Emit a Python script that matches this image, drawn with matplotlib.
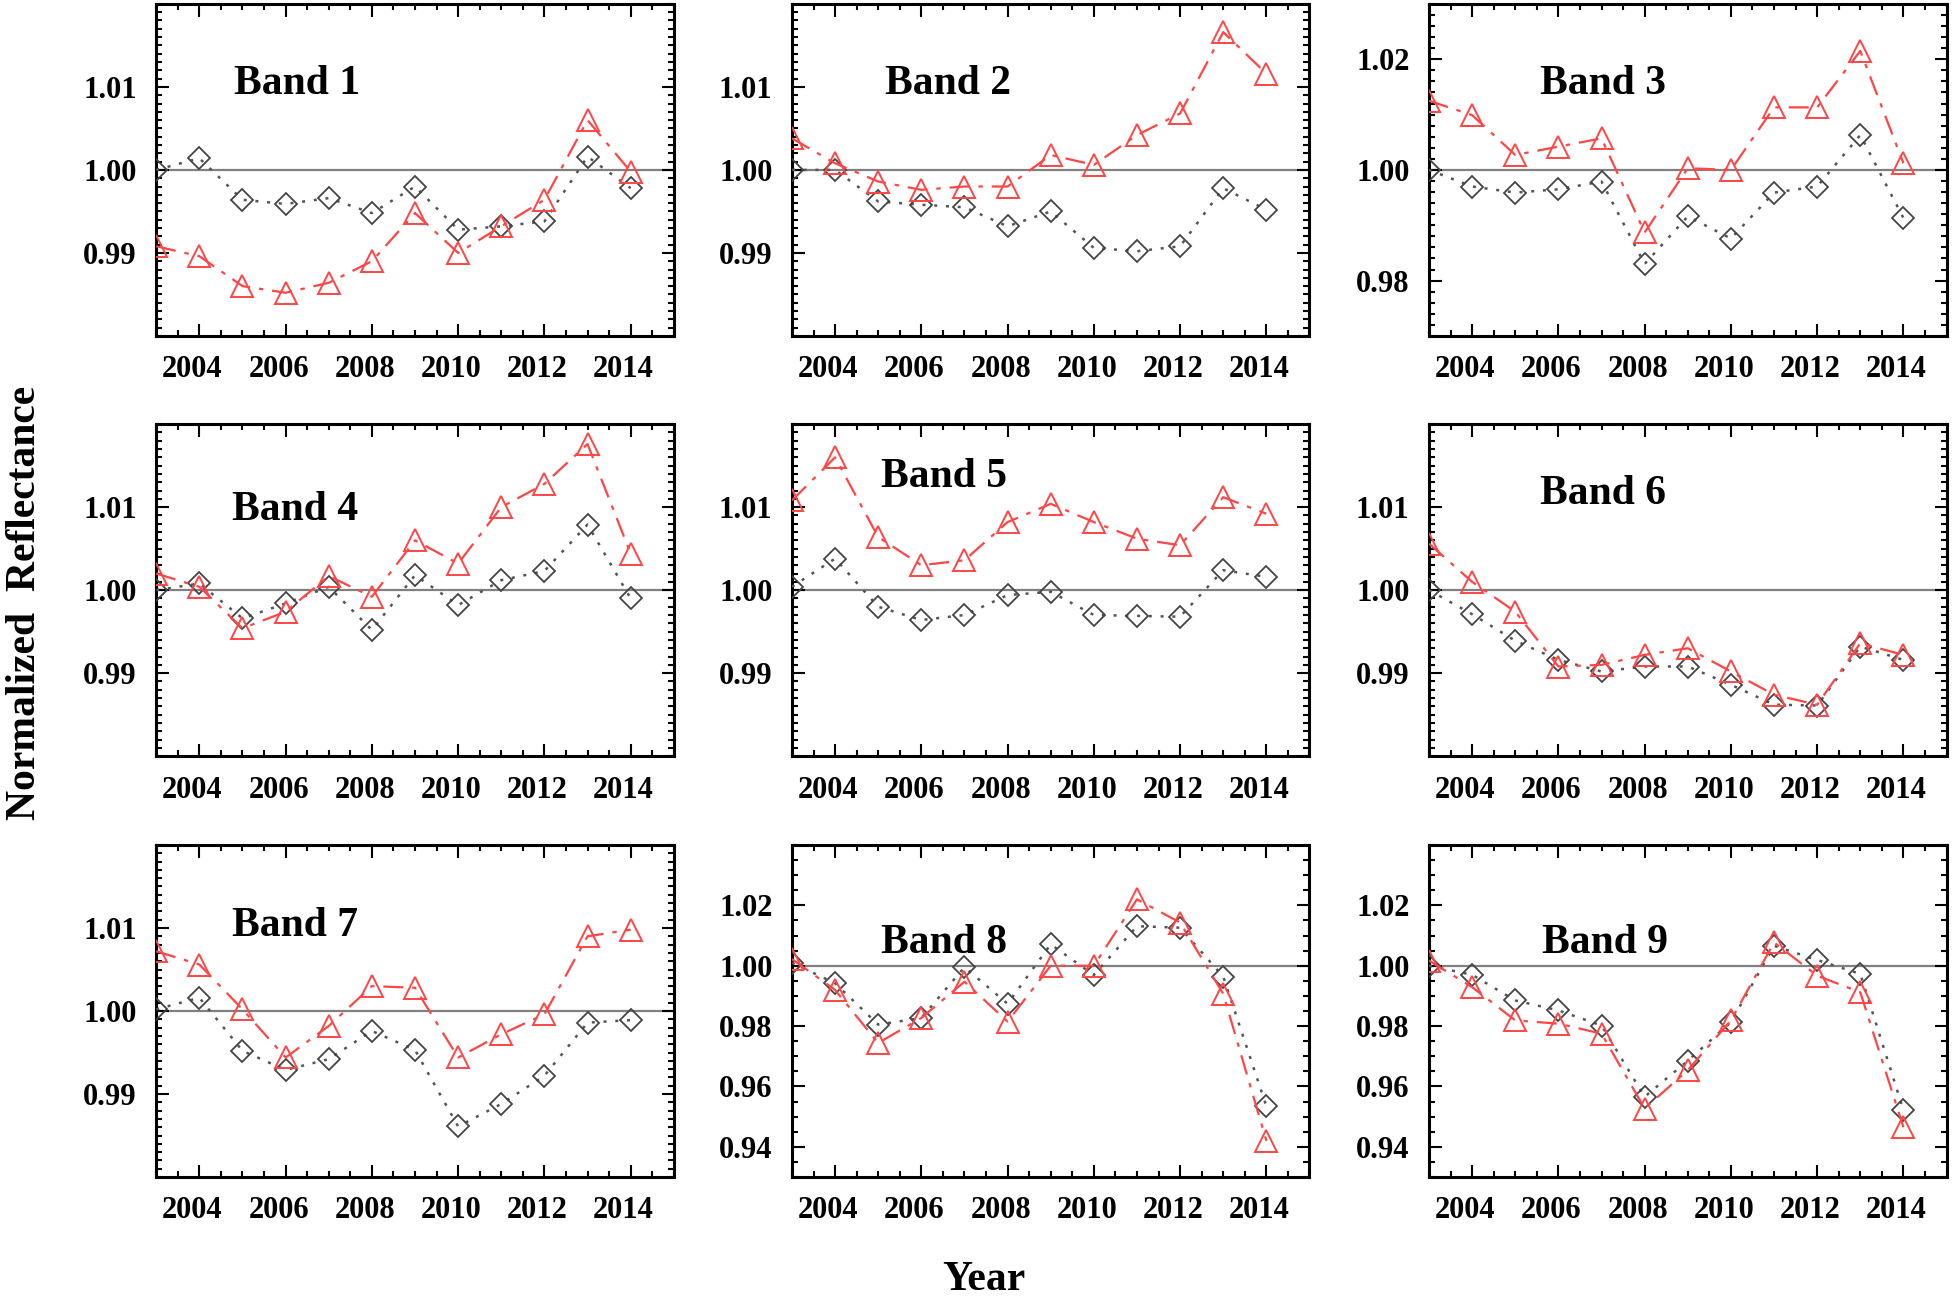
import numpy as np
import matplotlib.pyplot as plt
import matplotlib.transforms as mtransforms
from matplotlib.ticker import MultipleLocator, FixedLocator, FormatStrFormatter

years = np.arange(2003, 2015)

band_names = ["Band 1", "Band 2", "Band 3", "Band 4", "Band 5",
              "Band 6", "Band 7", "Band 8", "Band 9"]

# black diamonds (dotted)
black_vals = [
    [1.000, 1.0014, 0.9964, 0.9959, 0.9966, 0.9948, 0.9980, 0.9928, 0.9932, 0.9938, 1.0016, 0.9978],
    [1.000, 1.0000, 0.9962, 0.9958, 0.9955, 0.9932, 0.9950, 0.9906, 0.9902, 0.9908, 0.9978, 0.9952],
    [1.000, 0.9970, 0.9959, 0.9965, 0.9979, 0.9830, 0.9916, 0.9876, 0.9959, 0.9970, 1.0063, 0.9913],
    [1.000, 1.0008, 0.9966, 0.9984, 1.0004, 0.9952, 1.0018, 0.9982, 1.0012, 1.0023, 1.0079, 0.9990],
    [1.0004, 1.0038, 0.9980, 0.9964, 0.9970, 0.9994, 0.9998, 0.9970, 0.9969, 0.9968, 1.0024, 1.0016],
    [1.000, 0.9971, 0.9939, 0.9916, 0.9902, 0.9908, 0.9908, 0.9886, 0.9862, 0.9861, 0.9932, 0.9916],
    [1.0002, 1.0016, 0.9952, 0.9929, 0.9942, 0.9976, 0.9953, 0.9861, 0.9888, 0.9922, 0.9986, 0.9989],
    [1.001, 0.9942, 0.9805, 0.9827, 0.9995, 0.9874, 1.0071, 0.9969, 1.0131, 1.0126, 0.9964, 0.9535],
    [1.000, 0.9970, 0.9885, 0.9852, 0.9802, 0.9566, 0.9685, 0.9813, 1.0066, 1.0019, 0.9973, 0.9522],
]

# red triangles (dash-dot)
red_vals = [
    [0.9908, 0.9896, 0.9860, 0.9852, 0.9864, 0.9890, 0.9948, 0.9900, 0.9932, 0.9964, 1.0060, 0.9998],
    [1.0038, 1.0008, 0.9986, 0.9976, 0.9980, 0.9980, 1.0018, 1.0006, 1.0042, 1.0068, 1.0166, 1.0116],
    [1.0125, 1.0099, 1.0027, 1.0042, 1.0057, 0.9887, 1.0003, 1.0000, 1.0113, 1.0113, 1.0215, 1.0012],
    [1.0020, 1.0004, 0.9954, 0.9974, 1.0017, 0.9992, 1.0060, 1.0032, 1.0100, 1.0128, 1.0176, 1.0044],
    [1.0108, 1.0160, 1.0064, 1.0030, 1.0036, 1.0082, 1.0104, 1.0082, 1.0062, 1.0054, 1.0112, 1.0092],
    [1.0056, 1.0010, 0.9974, 0.9908, 0.9910, 0.9922, 0.9930, 0.9902, 0.9874, 0.9862, 0.9936, 0.9922],
    [1.0072, 1.0056, 1.0002, 0.9944, 0.9982, 1.0030, 1.0028, 0.9944, 0.9972, 0.9996, 1.0090, 1.0098],
    [1.0022, 0.9920, 0.9744, 0.9827, 0.9947, 0.9815, 1.0000, 1.0000, 1.0220, 1.0143, 0.9907, 0.9420],
    [1.0017, 0.9929, 0.9819, 0.9808, 0.9775, 0.9527, 0.9654, 0.9819, 1.0077, 0.9967, 0.9912, 0.9465],
]

ylims = [(0.98, 1.02)] * 2 + [(0.97, 1.03)] + [(0.98, 1.02)] * 4 + [(0.93, 1.04)] * 2
yticks = [[0.99, 1.00, 1.01]] * 2 + [[0.98, 1.00, 1.02]] + [[0.99, 1.00, 1.01]] * 4 \
    + [[0.94, 0.96, 0.98, 1.00, 1.02]] * 2
yminor = [0.001, 0.001, 0.002, 0.001, 0.001, 0.001, 0.001, 0.005, 0.005]
xticks = [2004, 2006, 2008, 2010, 2012, 2014]

# label positions (axes fraction)
label_pos = [(0.15, 0.76), (0.18, 0.76), (0.215, 0.76),
             (0.147, 0.74), (0.173, 0.84), (0.215, 0.79),
             (0.147, 0.755), (0.173, 0.705), (0.218, 0.705)]


def main():
    plt.rcParams['font.family'] = ['Liberation Serif', 'DejaVu Serif']
    plt.rcParams['font.weight'] = 'bold'

    fig = plt.figure(figsize=(19.53, 12.97), dpi=100)

    lefts = [0.080, 0.4055, 0.7317]
    bottoms = [0.741, 0.417, 0.0925]
    w, h = 0.265, 0.256
    shift = mtransforms.ScaledTranslation(-7 / 100, 0, fig.dpi_scale_trans)

    for i in range(9):
        r, c = divmod(i, 3)
        ax = fig.add_axes([lefts[c], bottoms[r], w, h])
        ax.axhline(1.0, color='#808080', lw=1.6, zorder=1)
        ax.plot(years, black_vals[i], color='#555555', ls=(0, (1.2, 3.5)), lw=1.8,
                marker='D', ms=11, mfc='none', mec='#444444', mew=1.3, zorder=3)
        ax.plot(years, red_vals[i], color='#ff4545', ls=(0, (9, 4, 2, 4)), lw=1.6,
                marker='^', ms=16, mfc='none', mec='#ff4545', mew=1.4, zorder=4)
        ax.set_xlim(2003, 2015)
        ax.set_ylim(*ylims[i])
        ax.xaxis.set_major_locator(FixedLocator(xticks))
        ax.xaxis.set_minor_locator(MultipleLocator(0.5))
        ax.yaxis.set_major_locator(FixedLocator(yticks[i]))
        ax.yaxis.set_minor_locator(MultipleLocator(yminor[i]))
        ax.yaxis.set_major_formatter(FormatStrFormatter('%.2f'))
        ax.tick_params(which='both', direction='in', top=True, right=True, width=1.5)
        ax.tick_params(which='major', length=9, labelsize=22, pad=14)
        ax.tick_params(which='minor', length=4)
        for s in ax.spines.values():
            s.set_linewidth(2.2)
        for lab in ax.get_xticklabels():
            lab.set_fontweight('bold')
            lab.set_transform(lab.get_transform() + shift)
        for lab in ax.get_yticklabels():
            lab.set_fontweight('bold')
        ax.text(label_pos[i][0], label_pos[i][1], band_names[i], transform=ax.transAxes,
                fontsize=30, fontweight='bold', ha='left', va='center')

    fig.text(0.013, 0.535, 'Normalized  Reflectance', rotation=90, fontsize=30,
             fontweight='bold', ha='center', va='center')
    fig.text(0.504, 0.013, 'Year', fontsize=30, fontweight='bold', ha='center', va='center')

    fig.savefig('out.png', dpi=100)


if __name__ == "__main__":
    main()
